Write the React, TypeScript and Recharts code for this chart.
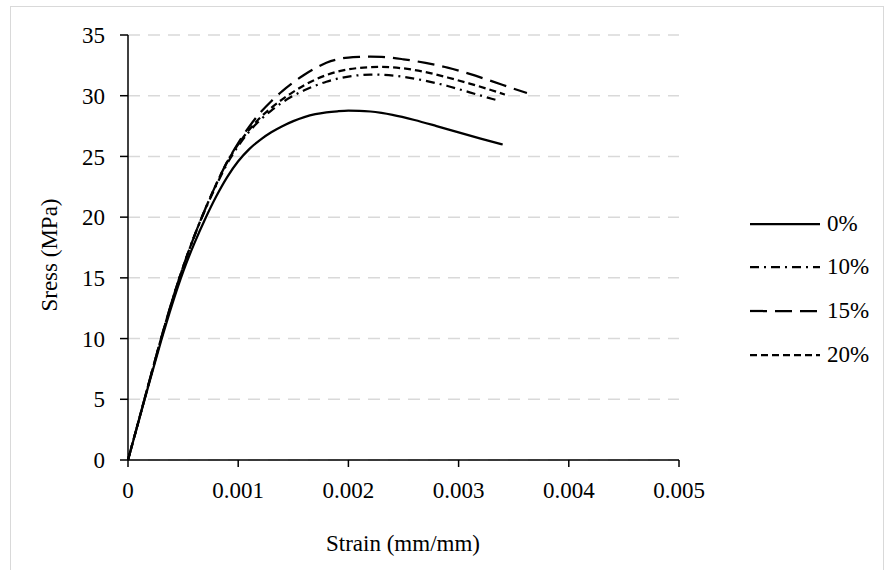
import React from 'react'
import { LineChart, Line, XAxis, YAxis, CartesianGrid, Legend } from 'recharts'

// strain (mm/mm) / stress (MPa), one pair of arrays per mix
const strain0 = [0, 0.0001, 0.0002, 0.0003, 0.0004, 0.0005, 0.0006, 0.0007, 0.0008, 0.0009, 0.001, 0.0011, 0.0012, 0.0013, 0.0014, 0.0015, 0.0016, 0.0017, 0.0018, 0.0019, 0.002, 0.0021, 0.0022, 0.0023, 0.0024, 0.0026, 0.0028, 0.003, 0.0032, 0.0034]
const stress0 = [0, 3.3, 6.6, 9.8, 12.8, 15.5, 17.8, 19.85, 21.7, 23.3, 24.6, 25.6, 26.37, 26.99, 27.49, 27.91, 28.24, 28.48, 28.63, 28.72, 28.77, 28.76, 28.7, 28.58, 28.42, 28.0, 27.5, 26.98, 26.47, 25.98]

const strain10 = [0, 0.0001, 0.0002, 0.0003, 0.0004, 0.0005, 0.0006, 0.0007, 0.0008, 0.0009, 0.001, 0.0011, 0.0012, 0.0013, 0.0014, 0.0015, 0.0016, 0.0017, 0.0018, 0.0019, 0.002, 0.0021, 0.0022, 0.0023, 0.0025, 0.0027, 0.0029, 0.0031, 0.0033, 0.00336]
const stress10 = [0, 3.35, 6.7, 10.0, 13.1, 15.9, 18.4, 20.6, 22.6, 24.4, 25.85, 27.05, 28.0, 28.78, 29.45, 30.0, 30.45, 30.83, 31.15, 31.4, 31.58, 31.69, 31.74, 31.72, 31.55, 31.23, 30.8, 30.28, 29.75, 29.6]

const strain15 = [0, 0.0001, 0.0002, 0.0003, 0.0004, 0.0005, 0.0006, 0.0007, 0.0008, 0.0009, 0.001, 0.0011, 0.0012, 0.0013, 0.0014, 0.0015, 0.0016, 0.0017, 0.0018, 0.0019, 0.002, 0.0021, 0.0022, 0.0023, 0.0025, 0.0027, 0.0029, 0.0031, 0.0033, 0.0035, 0.00362]
const stress15 = [0, 3.35, 6.7, 10.0, 13.1, 15.9, 18.4, 20.65, 22.7, 24.55, 26.1, 27.45, 28.6, 29.55, 30.38, 31.1, 31.73, 32.27, 32.72, 33.0, 33.14, 33.2, 33.22, 33.2, 33.0, 32.7, 32.32, 31.8, 31.2, 30.58, 30.22]

const strain20 = [0, 0.0001, 0.0002, 0.0003, 0.0004, 0.0005, 0.0006, 0.0007, 0.0008, 0.0009, 0.001, 0.0011, 0.0012, 0.0013, 0.0014, 0.0015, 0.0016, 0.0017, 0.0018, 0.0019, 0.002, 0.0021, 0.0022, 0.0023, 0.0025, 0.0027, 0.0029, 0.0031, 0.0033, 0.00342]
const stress20 = [0, 3.35, 6.7, 10.0, 13.1, 15.9, 18.4, 20.65, 22.7, 24.55, 26.0, 27.2, 28.2, 29.0, 29.7, 30.32, 30.87, 31.33, 31.7, 31.98, 32.17, 32.29, 32.35, 32.37, 32.25, 31.95, 31.5, 31.0, 30.45, 30.09]

const xTicks = [0, 0.001, 0.002, 0.003, 0.004, 0.005]
const yTicks = [0, 5, 10, 15, 20, 25, 30, 35]

const font = '"Liberation Serif", serif'

const toPoints = (xs: number[], ys: number[]) => xs.map((x, i) => ({ strain: x, stress: ys[i] }))

const series = [
  { name: '0%', data: toPoints(strain0, stress0), dash: undefined },
  { name: '10%', data: toPoints(strain10, stress10), dash: '9 5 2 5' },
  { name: '15%', data: toPoints(strain15, stress15), dash: '17 8' },
  { name: '20%', data: toPoints(strain20, stress20), dash: '7 4' },
]

function LegendBox() {
  return (
    <div style={{ fontFamily: font, fontSize: 23, color: '#000' }}>
      {series.map((s) => (
        <div key={s.name} style={{ display: 'flex', alignItems: 'center', height: 43.6 }}>
          <svg width={77} height={10}>
            <line x1={0} y1={5} x2={70} y2={5} stroke="#000" strokeWidth={2.25} strokeDasharray={s.dash} />
          </svg>
          <span>{s.name}</span>
        </div>
      ))}
    </div>
  )
}

export default function App() {
  return (
    <div style={{ position: 'absolute', left: 0, top: 0, width: 888, height: 570, background: '#fff', overflow: 'hidden' }}>
      <div style={{ position: 'absolute', left: 10, top: 6, width: 872, height: 600, borderLeft: '1px solid #d9d9d9', borderTop: '1px solid #d9d9d9', borderRight: '1px solid #d9d9d9' }} />
      <div style={{ position: 'absolute', left: 0, top: 0 }}>
        {/* legend is 130 wide and counts toward the right offset, so right margin = 209 - 130 */}
        <LineChart width={888} height={570} margin={{ top: 35, right: 79, bottom: 0, left: 0 }}>
          <CartesianGrid vertical={false} stroke="#d9d9d9" strokeWidth={1.5} strokeDasharray="12 8" />
          <XAxis
            dataKey="strain"
            type="number"
            domain={[0, 0.005]}
            ticks={xTicks}
            height={110}
            allowDuplicatedCategory={false}
            stroke="#000"
            strokeWidth={1.5}
            tickSize={7}
            tickMargin={15}
            tick={{ fill: '#000', fontSize: 23, fontFamily: font }}
          />
          <YAxis
            type="number"
            domain={[0, 35]}
            ticks={yTicks}
            width={128}
            stroke="#000"
            strokeWidth={1.5}
            tickSize={8}
            tickMargin={15}
            tick={{ fill: '#000', fontSize: 23, fontFamily: font }}
          />
          <Legend
            layout="vertical"
            align="right"
            verticalAlign="top"
            content={() => <LegendBox />}
            wrapperStyle={{ left: 750, top: 202, width: 130 }}
          />
          {series.map((s) => (
            <Line
              key={s.name}
              name={s.name}
              data={s.data}
              dataKey="stress"
              type="monotone"
              stroke="#000"
              strokeWidth={2.25}
              strokeDasharray={s.dash}
              dot={false}
              activeDot={false}
              isAnimationActive={false}
            />
          ))}
        </LineChart>
      </div>
      <div style={{ position: 'absolute', left: 0, width: 806, top: 530, textAlign: 'center', fontFamily: font, fontSize: 23, color: '#000', lineHeight: '28px' }}>
        Strain (mm/mm)
      </div>
      <div style={{ position: 'absolute', left: 50, top: 255, width: 0, height: 0 }}>
        <div style={{ position: 'absolute', left: -100, top: -14, width: 200, textAlign: 'center', lineHeight: '28px', fontFamily: font, fontSize: 23, color: '#000', transform: 'rotate(-90deg)' }}>
          Sress (MPa)
        </div>
      </div>
    </div>
  )
}
